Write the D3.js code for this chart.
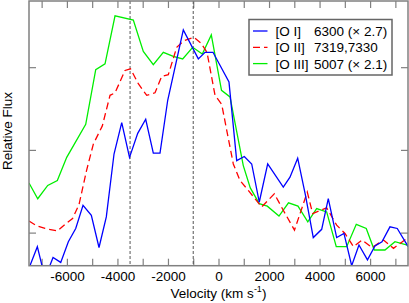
<!DOCTYPE html>
<html lang="en">

<head>
  <meta charset="UTF-8">
  <title>Line profiles - Relative Flux vs Velocity</title>
  <script src="https://d3js.org/d3.v7.min.js"></script>
  <style>
    body { margin: 0; background: #fff; }
    text { font-family: "Liberation Sans", Arial, sans-serif; }
  </style>
</head>

<body>
  <div id="chart"></div>

  <script>
    // data (velocity in km/s, relative flux)
    const oiVel = [-7500, -7170, -6865, -6549, -6244, -5943, -5651, -5362, -5033, -4729, -4440, -4135, -3830, -3522,
      -3197, -2881, -2580, -2315, -2010, -1393, -799, -534, -218, 415, 720, 1021, 1314, 1614, 1947, 2564, 2829, 3134,
      3443, 3751, 4084, 4345, 4677, 4966, 5271, 5559, 5896, 6193, 6470, 6786, 7075, 7447, 7500];
    const oiFlux = [-0.43, -0.17, -0.55, -0.30, -0.36, -0.11, 0.05, 0.33, 0.21, -0.18, 0.19, 0.95, 1.33, 0.91,
      1.20, 1.37, 0.96, 0.96, 1.60, 2.45, 2.10, 2.18, 2.18, 1.82, 0.87, 0.92, 0.83, 0.37, 0.83, 0.55, 0.67, 0.90,
      0.45, -0.06, 0.04, 0.41, -0.06, -0.01, -0.40, -0.15, -0.33, -0.16, -0.11, 0.07, 0.05, -0.14, -0.17];

    const oiiVel = [-7500, -7182, -6865, -6371, -6034, -5777, -5520, -5223, -4954, -4598, -4293, -4095, -3700, -3482,
      -3174, -2841, -2513, -2248, -1986, -1654, -1365, -969, -692, -455, -138, 127, 324, 586, 851, 1179, 1444, 1709,
      2208, 2564, 3007, 3514, 3727, 4281, 4677, 5006, 5342, 5678, 6074, 6529, 6925, 7459, 7500];
    const oiiFlux = [0.14, 0.08, 0.05, 0.02, 0.11, 0.17, 0.34, 0.75, 1.07, 1.29, 1.66, 1.69, 1.96, 1.98,
      1.80, 1.66, 1.69, 1.89, 1.91, 2.24, 2.32, 2.36, 2.29, 2.18, 1.66, 1.55, 1.24, 0.83, 0.63, 0.51, 0.41, 0.31,
      0.47, 0.27, 0.03, 0.49, 0.23, 0.30, 0.09, -0.01, -0.17, -0.09, -0.18, -0.09, -0.19, -0.07, -0.07];

    const oiiiVel = [-7500, -7154, -6759, -6379, -6007, -5255, -4859, -4491, -4095, -3371, -2976, -2580, -2184, -1789,
      -1417, -1021, -641, -285, 119, 455, 981, 1258, 1614, 1931, 2394, 2770, 3146, 3534, 3886, 4281, 4661, 5073,
      5453, 5848, 6165, 6588, 6984, 7471, 7500];
    const oiiiFlux = [0.60, 0.41, 0.57, 0.63, 0.91, 1.31, 1.97, 2.04, 2.62, 2.57, 2.19, 2.03, 2.18, 2.13,
      2.10, 2.24, 2.16, 2.39, 1.72, 1.64, 0.81, 0.54, 0.35, 0.32, 0.20, 0.36, 0.32, 0.13, 0.29, 0.25, -0.17, -0.17,
      0.10, 0.05, -0.21, -0.21, -0.11, -0.15, -0.15];

    const seriesNames = ["[O I]", "[O II]", "[O III]"];
    const seriesLines = ["6300 (× 2.7)", "7319,7330", "5007 (× 2.1)"];
    const markerVel = [-3500, -1000];
    const xTickLabels = [-6000, -4000, -2000, 0, 2000, 4000, 6000];
    const yTickVals = [0, 1, 2];

    const margin = { top: 1, right: 1, bottom: 37, left: 29 },
      width = 409 - margin.left - margin.right,
      height = 302.7 - margin.top - margin.bottom;

    const svg = d3.select("#chart")
      .append("svg")
      .attr("width", 409)
      .attr("height", 303)
      .append("g")
      .attr("transform", `translate(${margin.left},${margin.top})`);

    const x = d3.scaleLinear().domain([-7500, 7500]).range([0, width]);
    const y = d3.scaleLinear().domain([-0.4, 2.8]).range([height, 0]);

    const axisColor = "#808080";

    // clip so lines dipping under the frame are cut
    svg.append("clipPath").attr("id", "plotclip")
      .append("rect").attr("width", width).attr("height", height);

    // ticks, all pointing inward
    const xTicks = d3.range(-7000, 7001, 1000);
    const fmt = d => xTickLabels.includes(d) ? String(d) : "";

    const xBottom = svg.append("g")
      .attr("transform", `translate(0,${height})`)
      .call(d3.axisBottom(x).tickValues(xTicks).tickFormat(fmt).tickSizeInner(-7).tickSizeOuter(0).tickPadding(6));
    const xTop = svg.append("g")
      .call(d3.axisTop(x).tickValues(xTicks).tickFormat("").tickSizeInner(-7).tickSizeOuter(0));
    const yLeft = svg.append("g")
      .call(d3.axisLeft(y).tickValues(yTickVals).tickFormat("").tickSizeInner(-7).tickSizeOuter(0));
    const yRight = svg.append("g")
      .attr("transform", `translate(${width},0)`)
      .call(d3.axisRight(y).tickValues(yTickVals).tickFormat("").tickSizeInner(-7).tickSizeOuter(0));

    [xBottom, xTop, yLeft, yRight].forEach(g => {
      g.select(".domain").remove();
      g.selectAll(".tick line").attr("stroke", axisColor).attr("stroke-width", 1.2);
    });
    xBottom.selectAll(".tick text")
      .attr("fill", "#000")
      .style("font-size", "13.5px")
      .style("font-family", '"Liberation Sans", Arial, sans-serif');

    // dashed markers
    svg.selectAll("line.marker")
      .data(markerVel)
      .enter()
      .append("line")
      .attr("class", "marker")
      .attr("x1", d => x(d)).attr("x2", d => x(d))
      .attr("y1", 0).attr("y2", height)
      .attr("stroke", "#555")
      .attr("stroke-width", 1)
      .attr("stroke-dasharray", "3,2");

    const line = d3.line()
      .x(d => x(d[0]))
      .y(d => y(d[1]));

    const series = [
      { pts: d3.zip(oiiiVel, oiiiFlux), color: "#00ee00", dash: null },
      { pts: d3.zip(oiiVel, oiiFlux), color: "#ff0000", dash: "7,4" },
      { pts: d3.zip(oiVel, oiFlux), color: "#0000ff", dash: null }
    ];

    const plot = svg.append("g").attr("clip-path", "url(#plotclip)");
    plot.selectAll("path.series")
      .data(series)
      .enter()
      .append("path")
      .attr("class", "series")
      .attr("fill", "none")
      .attr("stroke", d => d.color)
      .attr("stroke-width", 1.3)
      .attr("stroke-dasharray", d => d.dash)
      .attr("d", d => line(d.pts));

    // frame
    svg.append("rect")
      .attr("width", width).attr("height", height)
      .attr("fill", "none")
      .attr("stroke", axisColor)
      .attr("stroke-width", 1.5);

    // legend
    const legendColors = ["#0000ff", "#ff0000", "#00ee00"];
    const legendDash = [null, "7,4", null];
    const lg = svg.append("g").attr("transform", `translate(${249 - margin.left},${19.5 - margin.top})`);
    lg.append("rect")
      .attr("width", 143).attr("height", 55.5)
      .attr("fill", "#fff")
      .attr("stroke", "#666")
      .attr("stroke-width", 1.5);
    seriesNames.forEach((name, i) => {
      const cy = 11.5 + i * 16.3;
      lg.append("line")
        .attr("x1", 4).attr("x2", 18.5)
        .attr("y1", cy).attr("y2", cy)
        .attr("stroke", legendColors[i])
        .attr("stroke-width", 1.3)
        .attr("stroke-dasharray", legendDash[i]);
      lg.append("text")
        .attr("x", 26.5).attr("y", cy + 5)
        .style("font-size", "13.5px")
        .text(name);
      lg.append("text")
        .attr("x", 65).attr("y", cy + 5)
        .style("font-size", "13.5px")
        .text(seriesLines[i]);
    });

    // axis labels
    const xl = svg.append("text")
      .attr("text-anchor", "middle")
      .attr("x", x(0))
      .attr("y", height + 32)
      .style("font-size", "13.5px");
    xl.append("tspan").text("Velocity (km s");
    xl.append("tspan").attr("dy", -5.5).style("font-size", "9px").text("-1");
    xl.append("tspan").attr("dy", 5.5).text(")");

    svg.append("text")
      .attr("text-anchor", "middle")
      .attr("transform", `translate(${12 - margin.left},${131 - margin.top}) rotate(-90)`)
      .style("font-size", "13.5px")
      .text("Relative Flux");
  </script>
</body>

</html>
